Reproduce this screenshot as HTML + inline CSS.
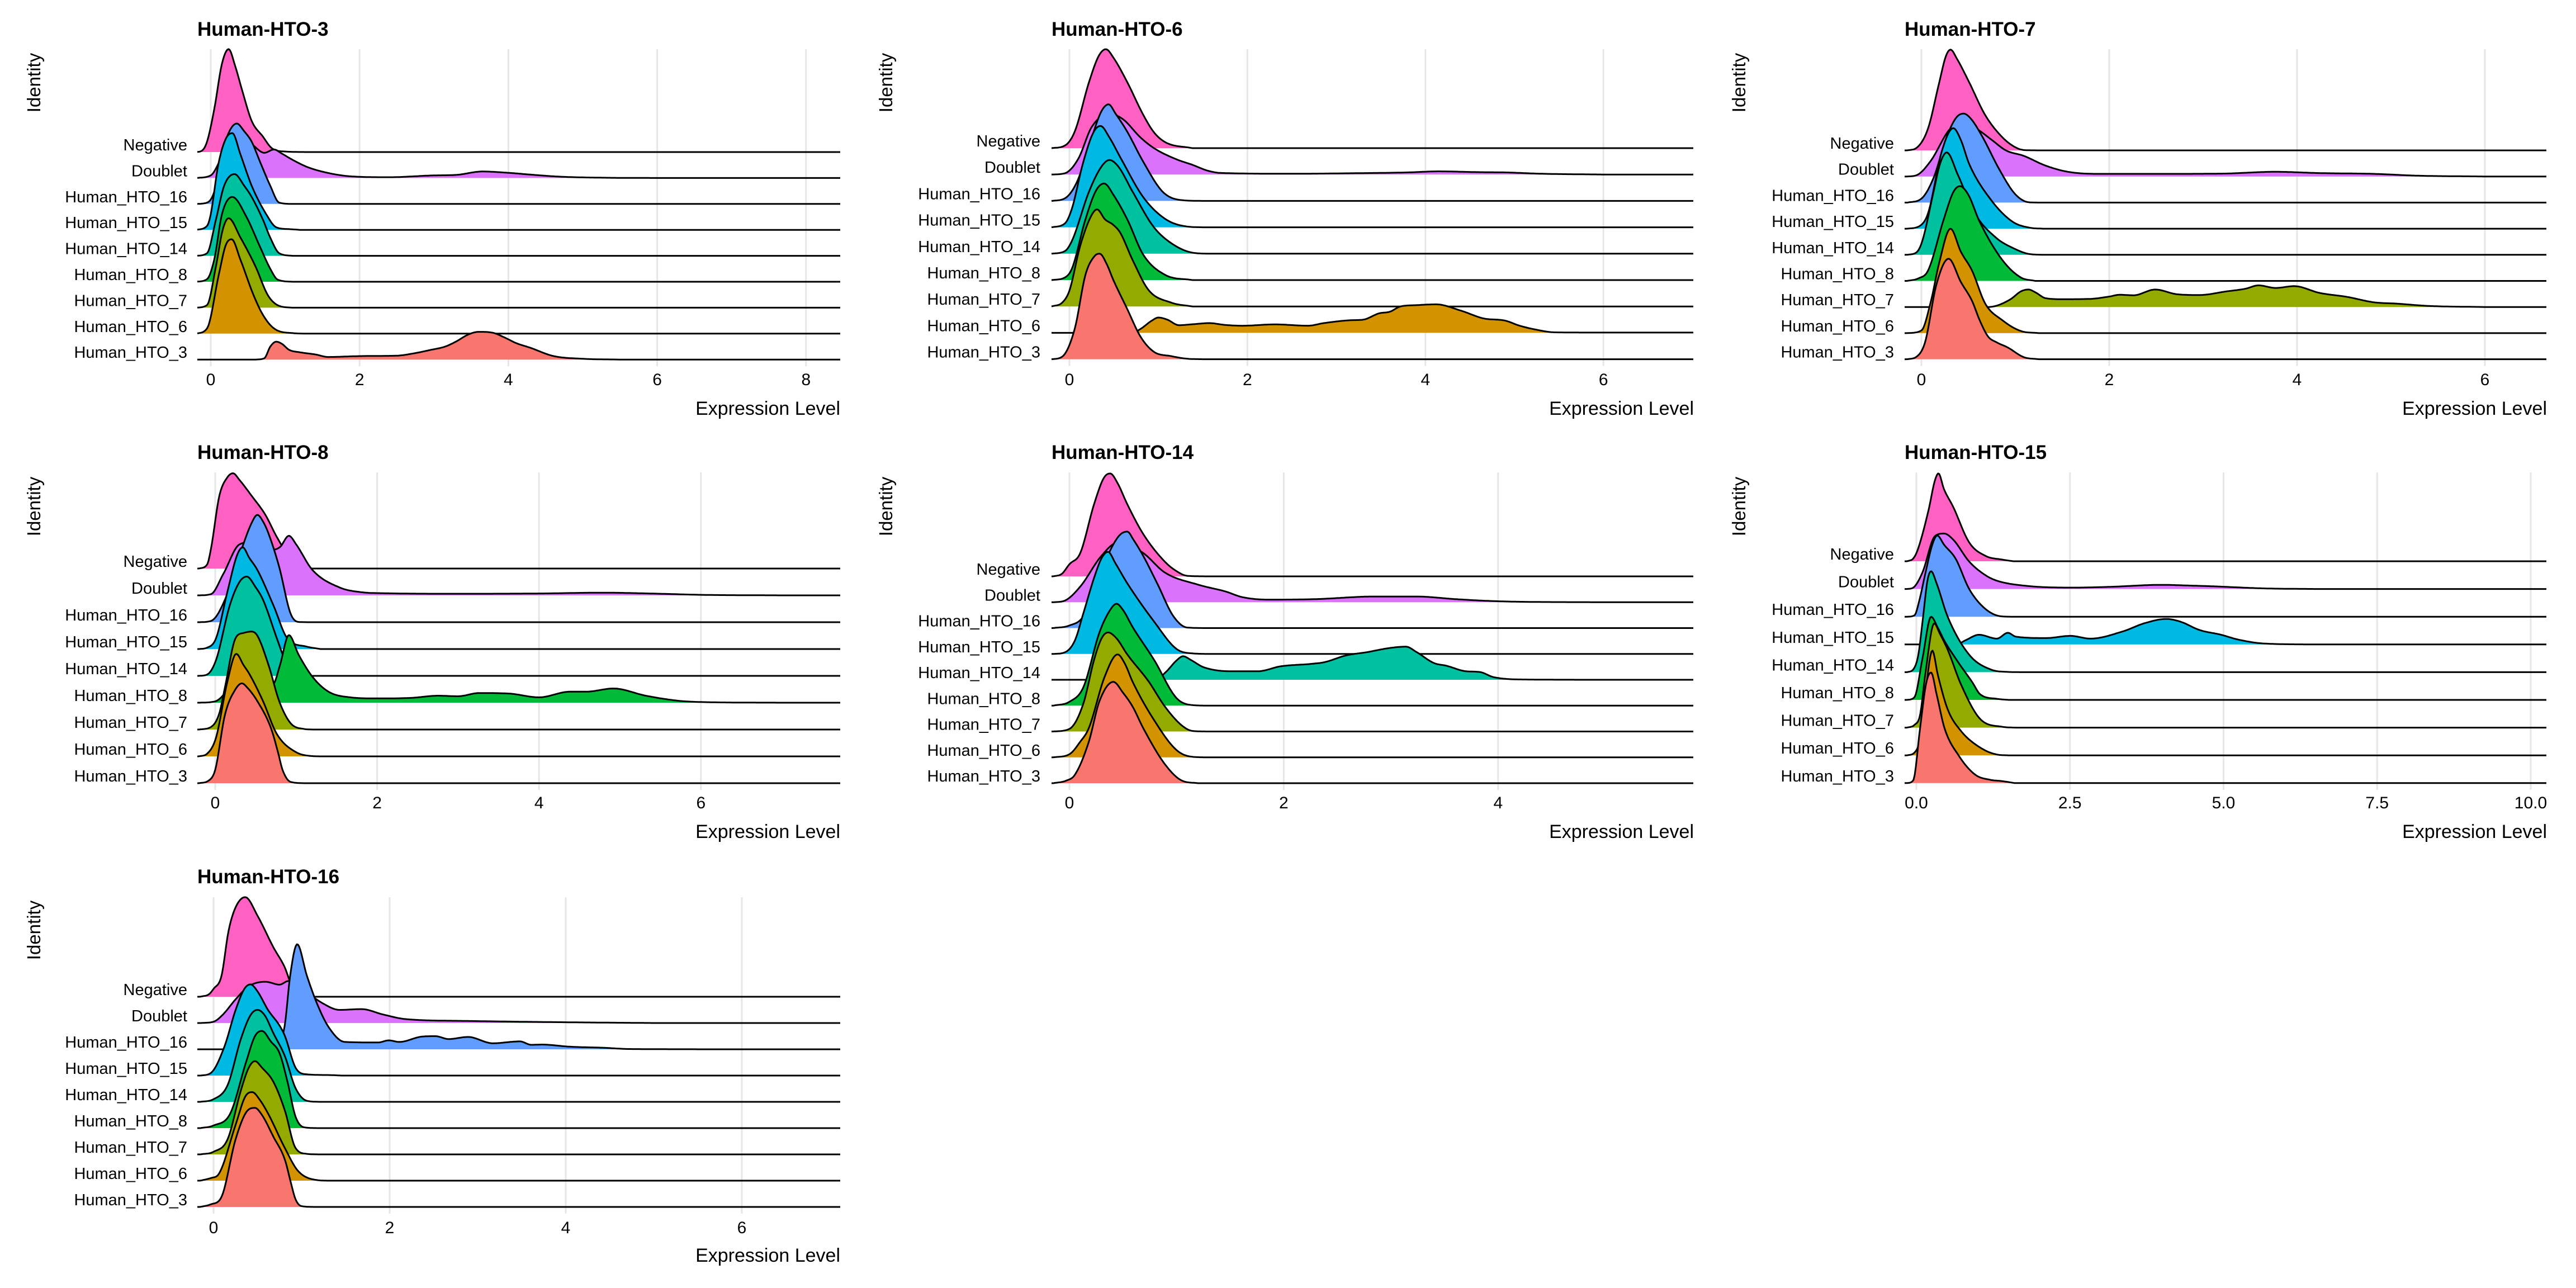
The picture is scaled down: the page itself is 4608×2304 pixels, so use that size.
<!DOCTYPE html>
<html><head><meta charset="utf-8">
<style>
html,body{margin:0;padding:0;background:#fff;}
svg{display:block;font-family:"Liberation Sans",Arial,sans-serif;}
</style></head>
<body>
<svg id="chart" xmlns="http://www.w3.org/2000/svg" width="4608" height="2304" viewBox="0 0 4608 2304">
<rect width="4608" height="2304" fill="#fff"/>
</svg>
<script>
const identities = ["Negative","Doublet","Human_HTO_16","Human_HTO_15","Human_HTO_14","Human_HTO_8","Human_HTO_7","Human_HTO_6","Human_HTO_3"];
const identityColors = ["#FF61C3","#DB72FB","#619CFF","#00B9E3","#00C19F","#00BA38","#93AA00","#D39200","#F8766D"];
const panelTitles = ["Human-HTO-3","Human-HTO-6","Human-HTO-7","Human-HTO-8","Human-HTO-14","Human-HTO-15","Human-HTO-16"];
const hto3Ticks = [0,2,4,6,8];
const hto6Ticks = [0,2,4,6];
const hto7Ticks = [0,2,4,6];
const hto8Ticks = [0,2,4,6];
const hto14Ticks = [0,2,4];
const hto15Ticks = [0,2.5,5,7.5,10];
const hto16Ticks = [0,2,4,6];

// density samples [expression, height in row units], one array per identity (top to bottom)
const hto3Ridges = [
[[-0.2,0],[-0.12,0.05],[-0.05,0.4],[0.05,1.7],[0.15,3.4],[0.24,3.97],[0.33,3.3],[0.42,2.4],[0.55,1.2],[0.7,0.6],[0.82,0.15],[1.0,0.02],[1.3,0]],
[[-0.2,0],[0,0.1],[0.15,0.8],[0.35,1.6],[0.55,1.3],[0.72,0.97],[0.85,1.1],[0.95,0.95],[1.1,0.7],[1.3,0.42],[1.6,0.18],[1.9,0.06],[2.4,0.03],[3.0,0.1],[3.3,0.12],[3.65,0.25],[4.0,0.2],[4.3,0.13],[4.7,0.05],[5.3,0.01],[6,0]],
[[-0.2,0],[-0.05,0.05],[0.05,0.5],[0.12,1.5],[0.22,2.6],[0.35,3.1],[0.45,2.8],[0.55,2.4],[0.66,1.64],[0.8,0.7],[0.92,0.05],[1.1,0]],
[[-0.2,0],[-0.05,0.15],[0.0,0.6],[0.1,2.5],[0.2,3.5],[0.29,3.73],[0.4,2.9],[0.55,1.7],[0.74,0.63],[0.88,0.1],[1.05,0.03],[1.2,0]],
[[-0.2,0],[-0.05,0.1],[0.07,1.4],[0.18,2.7],[0.32,3.15],[0.45,2.7],[0.55,2.27],[0.7,1.4],[0.8,0.7],[0.92,0.1],[1.1,0]],
[[-0.2,0],[-0.05,0.1],[0.05,0.9],[0.15,2.6],[0.29,3.27],[0.48,2.5],[0.66,1.36],[0.8,0.5],[0.9,0.08],[1.1,0]],
[[-0.2,0],[-0.05,0.1],[0.07,1.6],[0.16,3.0],[0.24,3.45],[0.4,2.7],[0.6,1.6],[0.77,0.47],[0.92,0.07],[1.1,0]],
[[-0.2,0],[-0.05,0.2],[0.11,2.3],[0.2,3.4],[0.28,3.64],[0.4,2.84],[0.57,1.52],[0.7,0.73],[0.85,0.2],[1.1,0.02],[1.3,0]],
[[0.6,0],[0.72,0.05],[0.8,0.5],[0.88,0.69],[0.96,0.6],[1.05,0.38],[1.2,0.28],[1.4,0.2],[1.58,0.1],[1.95,0.13],[2.2,0.14],[2.5,0.15],[2.75,0.25],[2.95,0.37],[3.15,0.5],[3.3,0.7],[3.45,0.95],[3.6,1.07],[3.78,1.04],[3.95,0.85],[4.1,0.64],[4.3,0.45],[4.6,0.14],[5.0,0.03],[5.5,0]]
];
const hto6Ridges = [
[[-0.2,0],[-0.05,0.1],[0.06,0.63],[0.22,2.5],[0.33,3.5],[0.41,3.75],[0.5,3.4],[0.65,2.5],[0.83,1.26],[0.95,0.6],[1.08,0.22],[1.38,0]],
[[-0.2,0],[-0.05,0.05],[0.1,0.6],[0.25,1.8],[0.45,2.3],[0.6,2.1],[0.8,1.4],[0.95,1.0],[1.2,0.58],[1.38,0.37],[1.55,0.15],[1.7,0.06],[2.5,0.03],[3.2,0.05],[3.8,0.08],[4.15,0.12],[4.6,0.09],[4.9,0.08],[5.3,0.03],[6,0]],
[[-0.2,0],[-0.05,0.1],[0.09,0.76],[0.25,2.4],[0.36,3.4],[0.44,3.66],[0.52,3.3],[0.65,2.62],[0.83,1.48],[1.05,0.34],[1.26,0.03],[1.5,0]],
[[-0.2,0],[-0.05,0.15],[0.03,0.73],[0.15,2.4],[0.27,3.6],[0.35,3.84],[0.45,3.4],[0.58,2.6],[0.83,1.14],[1.08,0.31],[1.32,0.03],[1.5,0]],
[[-0.2,0],[-0.05,0.1],[0.03,0.5],[0.22,2.35],[0.36,3.3],[0.45,3.55],[0.55,3.3],[0.71,2.35],[0.95,1.0],[1.2,0.28],[1.42,0.02],[1.6,0]],
[[-0.2,0],[-0.05,0.1],[0.03,0.45],[0.18,2.3],[0.3,3.4],[0.39,3.66],[0.5,3.2],[0.65,2.3],[0.83,0.96],[1.08,0.19],[1.38,0]],
[[-0.2,0],[-0.08,0.15],[0.0,0.6],[0.12,2.28],[0.24,3.4],[0.31,3.68],[0.4,3.3],[0.49,3.1],[0.57,2.8],[0.71,1.76],[0.89,0.62],[1.14,0.15],[1.38,0]],
[[-0.2,0],[0.7,0],[0.8,0.15],[0.92,0.45],[1.0,0.58],[1.1,0.5],[1.23,0.29],[1.4,0.33],[1.57,0.37],[1.75,0.3],[1.94,0.27],[2.31,0.32],[2.68,0.27],[2.86,0.37],[3.17,0.48],[3.3,0.5],[3.48,0.74],[3.6,0.8],[3.72,1.0],[3.9,1.05],[4.12,1.08],[4.4,0.84],[4.65,0.55],[4.9,0.46],[5.05,0.28],[5.26,0.11],[5.45,0.02],[6,0.01]],
[[-0.2,0],[-0.08,0.1],[0.06,1.16],[0.18,3.2],[0.28,3.9],[0.34,4.0],[0.42,3.6],[0.49,3.03],[0.65,1.9],[0.8,0.85],[0.95,0.28],[1.14,0.12],[1.32,0.02],[1.5,0]]
];
const hto7Ridges = [
[[-0.15,0],[-0.05,0.1],[0.07,0.83],[0.19,2.6],[0.26,3.6],[0.31,3.86],[0.38,3.5],[0.51,2.6],[0.68,1.35],[0.86,0.51],[1.0,0.12],[1.1,0.01],[1.3,0]],
[[-0.15,0],[-0.05,0.05],[0.1,0.6],[0.3,1.8],[0.45,2.1],[0.6,1.8],[0.75,1.4],[0.9,1.0],[1.09,0.79],[1.32,0.42],[1.56,0.18],[1.9,0.1],[2.5,0.1],[3.2,0.11],[3.77,0.18],[4.24,0.13],[4.82,0.1],[5.29,0.03],[6,0]],
[[-0.15,0],[0.0,0.15],[0.13,0.95],[0.27,2.52],[0.37,3.25],[0.45,3.41],[0.53,3.2],[0.65,2.52],[0.83,1.27],[1.0,0.32],[1.15,0.01],[1.3,0]],
[[-0.15,0],[-0.02,0.1],[0.07,0.58],[0.22,3.0],[0.34,3.85],[0.42,3.4],[0.51,2.47],[0.74,1.11],[0.97,0.27],[1.15,0.04],[1.3,0]],
[[-0.15,0],[-0.05,0.1],[0.01,0.53],[0.13,2.42],[0.2,3.5],[0.27,3.92],[0.39,3.05],[0.57,1.58],[0.8,0.64],[0.97,0.27],[1.15,0.03],[1.3,0]],
[[-0.15,0],[-0.03,0.1],[0.07,0.39],[0.24,2.38],[0.34,3.4],[0.41,3.63],[0.5,3.3],[0.62,2.27],[0.86,0.81],[1.06,0.13],[1.21,0]],
[[-0.15,0],[0.7,0],[0.8,0.05],[0.95,0.3],[1.06,0.6],[1.14,0.67],[1.22,0.55],[1.32,0.34],[1.5,0.3],[1.79,0.31],[2.0,0.4],[2.11,0.47],[2.26,0.45],[2.49,0.67],[2.72,0.49],[2.96,0.46],[3.25,0.6],[3.45,0.7],[3.59,0.83],[3.77,0.73],[3.97,0.8],[4.24,0.54],[4.53,0.39],[4.82,0.18],[5.06,0.13],[5.41,0.04],[6,0]],
[[-0.15,0],[0.0,0.1],[0.1,1.2],[0.19,2.7],[0.31,4.0],[0.42,3.12],[0.54,2.39],[0.68,1.13],[0.86,0.5],[1.06,0.08],[1.25,0]],
[[-0.15,0],[-0.05,0.1],[0.04,0.66],[0.16,2.86],[0.29,3.85],[0.42,2.96],[0.54,2.23],[0.62,1.5],[0.71,0.87],[0.8,0.65],[0.92,0.45],[1.09,0.08],[1.25,0]]
];
const hto8Ridges = [
[[-0.2,0],[-0.1,0.15],[-0.05,0.78],[0.05,2.7],[0.15,3.4],[0.22,3.55],[0.3,3.3],[0.45,2.71],[0.62,2.0],[0.76,1.18],[0.93,0.37],[1.05,0.05],[1.2,0]],
[[-0.2,0],[-0.05,0.05],[0.1,0.8],[0.3,1.9],[0.5,2.0],[0.7,1.7],[0.8,1.8],[0.91,2.22],[1.0,1.9],[1.2,0.95],[1.54,0.29],[1.8,0.12],[2.08,0.08],[3.0,0.06],[4.0,0.07],[4.78,0.1],[5.5,0.06],[6.0,0.02],[7,0]],
[[-0.2,0],[-0.05,0.05],[0.12,0.84],[0.32,2.67],[0.45,3.7],[0.52,4.0],[0.6,3.7],[0.66,3.29],[0.79,2.06],[0.93,0.33],[1.03,0.01],[1.2,0]],
[[-0.2,0],[-0.1,0.05],[0.01,0.4],[0.15,2.13],[0.27,3.5],[0.34,3.79],[0.42,3.4],[0.52,2.95],[0.72,1.62],[0.89,0.4],[1.13,0.09],[1.3,0]],
[[-0.2,0],[-0.1,0.05],[0.01,0.59],[0.18,2.63],[0.3,3.5],[0.39,3.7],[0.5,3.3],[0.59,2.84],[0.76,1.41],[0.86,0.59],[0.96,0.05],[1.1,0]],
[[-0.2,0],[0.0,0.05],[0.2,0.6],[0.4,1.0],[0.6,0.6],[0.72,0.7],[0.8,1.4],[0.91,2.52],[1.03,1.79],[1.2,0.97],[1.4,0.41],[1.67,0.2],[2.0,0.16],[2.42,0.18],[2.75,0.26],[3.0,0.24],[3.26,0.36],[3.63,0.34],[4.0,0.2],[4.38,0.41],[4.58,0.41],[4.92,0.53],[5.32,0.26],[5.73,0.07],[6.07,0.02],[7,0]],
[[-0.2,0],[-0.05,0.1],[0.05,0.6],[0.12,1.57],[0.25,3.4],[0.35,3.6],[0.45,3.65],[0.52,3.5],[0.66,2.39],[0.79,1.06],[0.93,0.24],[1.1,0.02],[1.2,0]],
[[-0.2,0],[-0.1,0.1],[0.01,0.7],[0.15,2.78],[0.26,3.82],[0.35,3.4],[0.42,3.08],[0.59,2.06],[0.76,0.84],[0.99,0.17],[1.2,0.01],[1.3,0]],
[[-0.2,0],[-0.08,0.1],[0.0,0.5],[0.12,2.55],[0.25,3.5],[0.33,3.72],[0.4,3.55],[0.52,3.06],[0.69,2.04],[0.78,1.1],[0.83,0.51],[0.93,0.05],[1.1,0]]
];
const hto14Ridges = [
[[-0.15,0],[-0.07,0.1],[0.0,0.47],[0.1,0.89],[0.23,2.79],[0.32,3.8],[0.38,3.98],[0.45,3.6],[0.54,2.79],[0.69,1.63],[0.89,0.57],[1.0,0.2],[1.1,0.02],[1.3,0]],
[[-0.15,0],[-0.05,0.05],[0.1,0.6],[0.3,1.8],[0.45,2.3],[0.6,2.1],[0.69,1.9],[0.89,1.15],[1.2,0.68],[1.46,0.41],[1.61,0.2],[1.86,0.1],[2.3,0.12],[2.84,0.22],[3.24,0.22],[3.6,0.12],[3.86,0.06],[4.16,0.02],[5,0]],
[[-0.15,0],[0.0,0.1],[0.13,0.46],[0.23,1.51],[0.38,3.0],[0.47,3.6],[0.54,3.73],[0.6,3.4],[0.69,2.78],[0.82,1.72],[0.97,0.46],[1.1,0.02],[1.3,0]],
[[-0.15,0],[-0.05,0.05],[0.05,0.51],[0.13,1.57],[0.23,2.94],[0.3,3.7],[0.36,3.95],[0.43,3.5],[0.54,2.73],[0.79,1.25],[1.0,0.19],[1.15,0.02],[1.3,0]],
[[-0.15,0],[0.8,0],[0.9,0.3],[1.0,0.75],[1.06,0.91],[1.14,0.75],[1.25,0.49],[1.51,0.33],[1.76,0.33],[1.97,0.52],[2.27,0.62],[2.38,0.68],[2.58,0.94],[2.78,1.07],[2.99,1.23],[3.14,1.28],[3.24,1.07],[3.4,0.65],[3.52,0.54],[3.7,0.33],[3.83,0.3],[3.96,0.1],[4.27,0.01],[5,0]],
[[-0.15,0],[0.0,0.15],[0.13,0.71],[0.28,2.83],[0.38,3.7],[0.44,3.94],[0.5,3.7],[0.59,3.04],[0.79,1.77],[1.0,0.29],[1.15,0.02],[1.3,0]],
[[-0.15,0],[0.0,0.1],[0.13,1.08],[0.23,2.77],[0.3,3.6],[0.36,3.83],[0.44,3.6],[0.54,2.98],[0.74,1.93],[0.89,0.97],[1.05,0.23],[1.15,0.02],[1.3,0]],
[[-0.15,0],[0.0,0.12],[0.1,0.6],[0.18,1.12],[0.33,3.13],[0.45,3.98],[0.52,3.6],[0.59,2.92],[0.79,1.44],[1.0,0.28],[1.15,0.02],[1.3,0]],
[[-0.15,0],[-0.03,0.1],[0.05,0.32],[0.18,1.59],[0.28,3.17],[0.41,3.92],[0.5,3.5],[0.59,2.96],[0.69,2.12],[0.89,0.74],[1.05,0.1],[1.2,0]]
];
const hto15Ridges = [
[[-0.15,0],[-0.05,0.1],[0.02,0.4],[0.2,1.86],[0.3,2.9],[0.36,3.17],[0.45,2.6],[0.6,1.96],[0.86,0.68],[1.13,0.19],[1.4,0.06],[1.58,0]],
[[-0.15,0],[-0.05,0.05],[0.1,0.6],[0.3,1.9],[0.45,2.0],[0.6,1.78],[0.86,0.99],[1.13,0.49],[1.31,0.3],[1.76,0.12],[2.56,0.05],[3.18,0.08],[3.98,0.15],[4.5,0.12],[4.79,0.1],[5.68,0.02],[6.5,0]],
[[-0.15,0],[-0.03,0.05],[0.05,0.6],[0.15,1.6],[0.26,2.6],[0.34,2.93],[0.45,2.6],[0.64,2.09],[0.86,1.0],[1.13,0.27],[1.4,0.01],[1.6,0]],
[[-0.15,0],[0.65,0],[0.8,0.15],[1.02,0.35],[1.31,0.21],[1.49,0.42],[1.62,0.28],[2.11,0.23],[2.51,0.31],[2.83,0.21],[3.36,0.47],[3.72,0.77],[4.07,0.92],[4.3,0.82],[4.61,0.52],[4.96,0.35],[5.23,0.18],[5.68,0.03],[6.5,0]],
[[-0.15,0],[-0.05,0.1],[0.03,0.6],[0.11,2.0],[0.18,3.3],[0.24,3.64],[0.33,3.2],[0.51,2.0],[0.86,0.63],[1.22,0.09],[1.49,0.01],[1.7,0]],
[[-0.15,0],[-0.03,0.1],[0.1,1.5],[0.24,3.0],[0.35,2.6],[0.46,2.12],[0.69,1.33],[0.91,0.64],[1.04,0.2],[1.31,0.04],[1.5,0]],
[[-0.15,0],[-0.03,0.1],[0.06,0.45],[0.15,2.0],[0.29,3.76],[0.38,3.4],[0.51,2.81],[0.73,1.54],[1.04,0.31],[1.4,0.03],[1.6,0]],
[[-0.15,0],[-0.03,0.1],[0.06,0.6],[0.15,2.3],[0.26,3.78],[0.35,2.9],[0.51,1.66],[0.73,0.87],[1.04,0.28],[1.31,0.03],[1.5,0]],
[[-0.15,0],[-0.05,0.1],[0.06,1.97],[0.16,3.6],[0.24,3.99],[0.33,3.2],[0.46,1.97],[0.69,0.99],[0.96,0.3],[1.2,0.12],[1.4,0.07],[1.6,0]]
];
const hto16Ridges = [
[[-0.15,0],[-0.05,0.1],[0.0,0.3],[0.09,0.79],[0.17,2.5],[0.25,3.4],[0.36,3.79],[0.5,3.08],[0.68,1.88],[0.81,1.11],[0.87,0.57],[0.95,0.1],[1.05,0]],
[[-0.15,0],[0.0,0.05],[0.1,0.3],[0.25,0.9],[0.4,1.4],[0.59,1.57],[0.75,1.46],[0.85,1.6],[0.95,1.5],[1.09,1.1],[1.24,0.75],[1.43,0.5],[1.68,0.53],[1.93,0.32],[2.18,0.15],[2.86,0.08],[3.98,0.03],[5,0]],
[[-0.15,0],[0.6,0],[0.7,0.05],[0.75,0.2],[0.81,0.94],[0.87,2.8],[0.95,4.0],[1.06,2.8],[1.18,1.7],[1.31,0.83],[1.49,0.28],[1.87,0.26],[1.99,0.34],[2.11,0.28],[2.36,0.48],[2.52,0.5],[2.67,0.39],[2.89,0.47],[3.17,0.23],[3.48,0.3],[3.61,0.17],[3.73,0.18],[4.04,0.1],[4.42,0.06],[4.73,0.01],[6,0]],
[[-0.15,0],[-0.03,0.1],[0.12,1.07],[0.25,2.49],[0.35,3.3],[0.42,3.47],[0.5,3.2],[0.62,2.49],[0.75,1.9],[0.81,1.51],[0.93,0.31],[1.05,0.05],[1.31,0.02],[1.45,0]],
[[-0.15,0],[0.0,0.1],[0.16,0.64],[0.31,2.39],[0.42,3.3],[0.5,3.5],[0.58,3.3],[0.68,2.61],[0.81,1.74],[0.93,0.53],[1.06,0.04],[1.2,0]],
[[-0.15,0],[0.0,0.1],[0.19,0.56],[0.37,2.52],[0.47,3.5],[0.55,3.7],[0.65,3.3],[0.75,2.85],[0.84,1.76],[0.93,0.45],[1.03,0.03],[1.2,0]],
[[-0.15,0],[0.0,0.1],[0.16,0.58],[0.31,2.43],[0.4,3.3],[0.47,3.55],[0.55,3.3],[0.68,2.76],[0.81,1.67],[0.93,0.25],[1.06,0.02],[1.2,0]],
[[-0.15,0],[-0.03,0.1],[0.06,0.26],[0.25,2.12],[0.36,3.2],[0.44,3.37],[0.52,3.1],[0.62,2.55],[0.81,1.24],[0.96,0.37],[1.18,0.02],[1.3,0]],
[[-0.15,0],[-0.03,0.1],[0.09,0.38],[0.25,2.57],[0.37,3.6],[0.47,3.77],[0.55,3.5],[0.68,2.67],[0.81,1.8],[0.88,0.9],[0.93,0.3],[1.0,0.03],[1.15,0]]
];

const panelRidges = [hto3Ridges,hto6Ridges,hto7Ridges,hto8Ridges,hto14Ridges,hto15Ridges,hto16Ridges];
const panelTicks = [hto3Ticks,hto6Ticks,hto7Ticks,hto8Ticks,hto14Ticks,hto15Ticks,hto16Ticks];
const tickDecimals = [0,0,0,0,0,1,0];

// layout (pixels) per panel
const layouts = [
 {ox:0,   left:353,right:1503,x0:377,unit:133.1,base:272, sp:46.4, top:88,  titleY:64,  tickY:689, xlabY:742, identX:61, identY:148, labRight:335},
 {ox:1536,left:345,right:1494,x0:377,unit:159.2,base:265, sp:47.2, top:88,  titleY:64,  tickY:689, xlabY:742, identX:49, identY:148, labRight:325},
 {ox:3072,left:335,right:1484,x0:365,unit:168.0,base:269, sp:46.7, top:88,  titleY:64,  tickY:689, xlabY:742, identX:39, identY:148, labRight:316},
 {ox:0,   left:353,right:1503,x0:385,unit:144.8,base:1017,sp:48.0, top:845, titleY:821, tickY:1446,xlabY:1499,identX:61, identY:906, labRight:335},
 {ox:1536,left:345,right:1494,x0:377,unit:191.7,base:1031,sp:46.25,top:845, titleY:821, tickY:1446,xlabY:1499,identX:49, identY:906, labRight:325},
 {ox:3072,left:335,right:1484,x0:356,unit:109.9,base:1004,sp:49.6, top:845, titleY:821, tickY:1446,xlabY:1499,identX:39, identY:906, labRight:316},
 {ox:0,   left:353,right:1503,x0:382,unit:157.5,base:1783,sp:47.0, top:1605,titleY:1580,tickY:2206,xlabY:2257,identX:61, identY:1664,labRight:335}
];

const NS = "http://www.w3.org/2000/svg";
const svg = document.getElementById("chart");
function mk(tag, attrs, parent){
  const e = document.createElementNS(NS, tag);
  for (const k in attrs) e.setAttribute(k, attrs[k]);
  (parent||svg).appendChild(e);
  return e;
}
// monotone cubic interpolation
function monotone(xs, ys){
  const n = xs.length, d = [], m = new Array(n);
  for (let i=0;i<n-1;i++) d.push((ys[i+1]-ys[i])/(xs[i+1]-xs[i]));
  m[0]=d[0]; m[n-1]=d[n-2];
  for (let i=1;i<n-1;i++){ m[i] = (d[i-1]*d[i]<=0)?0:(d[i-1]+d[i])/2; }
  for (let i=0;i<n-1;i++){
    if (d[i]===0){ m[i]=0; m[i+1]=0; continue; }
    const a=m[i]/d[i], b=m[i+1]/d[i], s=a*a+b*b;
    if (s>9){ const t=3/Math.sqrt(s); m[i]=t*a*d[i]; m[i+1]=t*b*d[i]; }
  }
  return function(x){
    if (x<=xs[0]) return ys[0];
    if (x>=xs[n-1]) return ys[n-1];
    let i=0; while (x>xs[i+1]) i++;
    const h=xs[i+1]-xs[i], t=(x-xs[i])/h, t2=t*t, t3=t2*t;
    return (2*t3-3*t2+1)*ys[i]+(t3-2*t2+t)*h*m[i]+(-2*t3+3*t2)*ys[i+1]+(t3-t2)*h*m[i+1];
  };
}

layouts.forEach((L, p) => {
  const g = mk("g", {transform:`translate(${L.ox},0)`});
  
  
  const ridges = panelRidges[p], ticks = panelTicks[p];
  const xs = v => L.x0 + v*L.unit;
  const baseY = i => L.base + i*L.sp;
  const lastBase = baseY(identities.length-1);

  const t = mk("text", {x:L.left, y:L.titleY, "font-size":35, "font-weight":"bold", fill:"#000"}, g);
  t.textContent = panelTitles[p];
  
  

  const yt = mk("text", {x:0, y:0, "font-size":33, fill:"#000", "text-anchor":"middle",
    transform:`translate(${L.identX+11},${L.identY}) rotate(-90)`}, g);
  yt.textContent = "Identity";
  
  

  ticks.forEach(v => {
    const gl = mk("line", {x1:xs(v), x2:xs(v), y1:L.top, y2:lastBase+12, stroke:"#e6e6e6", "stroke-width":3}, g);
    
    
    const tl = mk("text", {x:xs(v), y:L.tickY, "font-size":30, fill:"#000", "text-anchor":"middle"}, g);
    tl.textContent = v.toFixed(tickDecimals[p]);
    
    
  });

  const xt = mk("text", {x:L.right, y:L.xlabY, "font-size":34, fill:"#000", "text-anchor":"end"}, g);
  xt.textContent = "Expression Level";
  
  

  identities.forEach((name, i) => {
    const pts = ridges[i];
    const f = monotone(pts.map(q=>q[0]), pts.map(q=>q[1]));
    const b = baseY(i);
    let line = "";
    for (let px=L.left; px<=L.right; px+=2){
      const v = (px - L.x0)/L.unit;
      const h = Math.max(0, f(v));
      line += (px===L.left?"M":"L") + px.toFixed(1) + "," + (b - h*L.sp).toFixed(1);
    }
    const area = mk("path", {d: line + `L${L.right},${b}L${L.left},${b}Z`, fill:identityColors[i], stroke:"none"}, g);
    
    
    const ln = mk("path", {d: line, fill:"none", stroke:"#000", "stroke-width":3, "stroke-linejoin":"round"}, g);
    
    

    const lab = mk("text", {x:L.labRight, y:b-3, "font-size":29, fill:"#000", "text-anchor":"end"}, g);
    lab.textContent = name;
    
    
  });
});
</script>
</body></html>
